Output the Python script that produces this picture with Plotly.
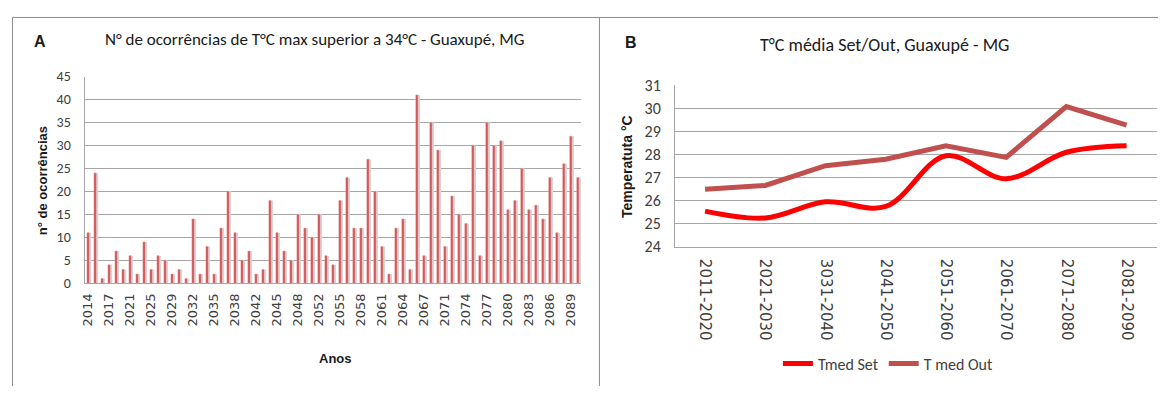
import plotly.graph_objects as go

# page is 1166x394; the browser keeps an 8px body margin, so the figure is 1150x378
PW, PH = 1166, 394
M = 8
W, H = PW - 2 * M, PH - 2 * M

# ---------------- data ----------------
years = [str(y) for y in range(2014, 2091) if y not in (2019, 2023, 2027, 2040, 2050, 2069)]
occurrences = [11, 24, 1, 4, 7, 3, 6, 2, 9, 3, 6, 5, 2, 3, 1, 14, 2, 8,
               2, 12, 20, 11, 5, 7, 2, 3, 18, 11, 7, 5, 15, 12, 10, 15, 6,
               4, 18, 23, 12, 12, 27, 20, 8, 2, 12, 14, 3, 41, 6, 35, 29, 8, 19,
               15, 13, 30, 6, 35, 30, 31, 16, 18, 25, 16, 17, 14, 23, 11, 26, 32, 23]
year_ticks = years[::3]

periods = ["2011-2020", "2021-2030", "3031-2040", "2041-2050",
           "2051-2060", "2061-2070", "2071-2080", "2081-2090"]
tmed_set = [25.55, 25.25, 25.95, 25.75, 27.95, 26.95, 28.1, 28.38]
tmed_out = [26.5, 26.66, 27.52, 27.8, 28.38, 27.88, 30.08, 29.28]


def xp(x):
    """page x pixel -> paper"""
    return (x - M) / W


def yp(y):
    """page y pixel -> paper"""
    return 1 - (y - M) / H


fig = go.Figure()

# shadow bars
fig.add_trace(go.Bar(x=years, y=occurrences, xaxis="x", yaxis="y",
                     marker=dict(color="#d6d6d6", line=dict(width=0)),
                     width=0.55, offset=-0.1, showlegend=False, hoverinfo="skip"))
# red bars
fig.add_trace(go.Bar(x=years, y=occurrences, xaxis="x", yaxis="y",
                     marker=dict(color="#cf4a4d", line=dict(width=0.6, color="#e59a9a")),
                     width=0.3, offset=-0.15, showlegend=False))

fig.add_trace(go.Scatter(x=periods, y=tmed_set, xaxis="x2", yaxis="y2", mode="lines",
                         name="Tmed Set", line=dict(color="#ff0000", width=5, shape="spline", smoothing=1.0)))
fig.add_trace(go.Scatter(x=periods, y=tmed_out, xaxis="x2", yaxis="y2", mode="lines",
                         name="T med Out", line=dict(color="#c0504d", width=5)))

grid = "#a6a6a6"
narrow = "Carlito, Liberation Sans Narrow, Liberation Sans"

fig.update_layout(
    width=W, height=H,
    margin=dict(l=0, r=0, t=0, b=0),
    paper_bgcolor="white", plot_bgcolor="white",
    barmode="overlay",
    xaxis=dict(domain=[xp(80.8), xp(579.3)], anchor="y", type="category",
               categoryorder="array", categoryarray=years,
               tickmode="array", tickvals=year_ticks, ticktext=year_ticks,
               tickangle=-90, tickfont=dict(family="DejaVu Sans", size=13, color="#404040"),
               showline=True, linecolor=grid, linewidth=1, showgrid=False,
               ticks="", ticklabelstandoff=4, range=[-0.5, len(years) - 0.5]),
    yaxis=dict(domain=[yp(288.3), yp(70.7)], anchor="x", range=[0, 45], dtick=5,
               showgrid=True, gridcolor=grid, gridwidth=1, zeroline=False,
               showline=True, linecolor=grid, tickfont=dict(family=narrow, size=14, color="#404040"),
               ticks="", ticklabelstandoff=10),
    xaxis2=dict(domain=[xp(673.3), xp(1156.7)], anchor="y2", type="category",
                categoryorder="array", categoryarray=periods,
                tickangle=90, tickfont=dict(family="DejaVu Sans", size=15, color="#404040"),
                showline=True, linecolor=grid, showgrid=False, ticks="",
                ticklabelstandoff=8, range=[-0.5, len(periods) - 0.5]),
    yaxis2=dict(domain=[yp(250), yp(80)], anchor="x2", range=[24, 31], dtick=1,
                showgrid=True, gridcolor=grid, zeroline=False,
                showline=True, linecolor=grid, tickfont=dict(family=narrow, size=16, color="#404040"),
                ticks="", ticklabelstandoff=10),
    legend=dict(orientation="h", x=xp(887), y=yp(373), xanchor="center", yanchor="middle",
                font=dict(family=narrow, size=16, color="#404040"),
                itemwidth=30, tracegroupgap=0, bgcolor="rgba(0,0,0,0)"),
    showlegend=True,
)

title_font_a = dict(family="Carlito, Open Sans, Liberation Sans", size=17, color="#1a1a1a")
title_font_b = dict(family="Carlito, Open Sans, Liberation Sans", size=18, color="#1a1a1a")
bold_font = dict(family="Liberation Sans", size=13, color="#1a1a1a")

ann = [
    dict(text="N° de ocorrências de T°C max superior a 34°C - Guaxupé, MG", x=xp(312), y=yp(32), font=title_font_a),
    dict(text="<b>A</b>", x=xp(36), y=yp(34), font=dict(family="Liberation Sans", size=16, color="#1a1a1a")),
    dict(text="T°C média Set/Out, Guaxupé - MG", x=xp(884), y=yp(37), font=title_font_b),
    dict(text="<b>B</b>", x=xp(629), y=yp(35), font=dict(family="Liberation Sans", size=16, color="#1a1a1a")),
    dict(text="<b>Anos</b>", x=xp(333), y=yp(368), font=bold_font),
    dict(text="<b>n° de ocorrências</b>", x=xp(38), y=yp(180), font=bold_font, textangle=-90),
    dict(text="<b>Temperatuta °C</b>", x=xp(625), y=yp(165), font=dict(family="Liberation Sans", size=14, color="#1a1a1a"), textangle=-90),
]
for a in ann:
    a.update(xref="paper", yref="paper", showarrow=False, xanchor="center", yanchor="middle")
fig.update_layout(annotations=ann)

border = dict(color="#8c8c8c", width=1)
fig.update_layout(shapes=[
    dict(type="line", xref="paper", yref="paper", x0=xp(8.5), x1=xp(1170), y0=yp(8.5), y1=yp(8.5), line=border),
    dict(type="line", xref="paper", yref="paper", x0=xp(8.5), x1=xp(8.5), y0=yp(8.5), y1=yp(400), line=border),
    dict(type="line", xref="paper", yref="paper", x0=xp(597.5), x1=xp(597.5), y0=yp(8.5), y1=yp(400), line=border),
])

fig.write_html("out.html", config={"displayModeBar": False})
